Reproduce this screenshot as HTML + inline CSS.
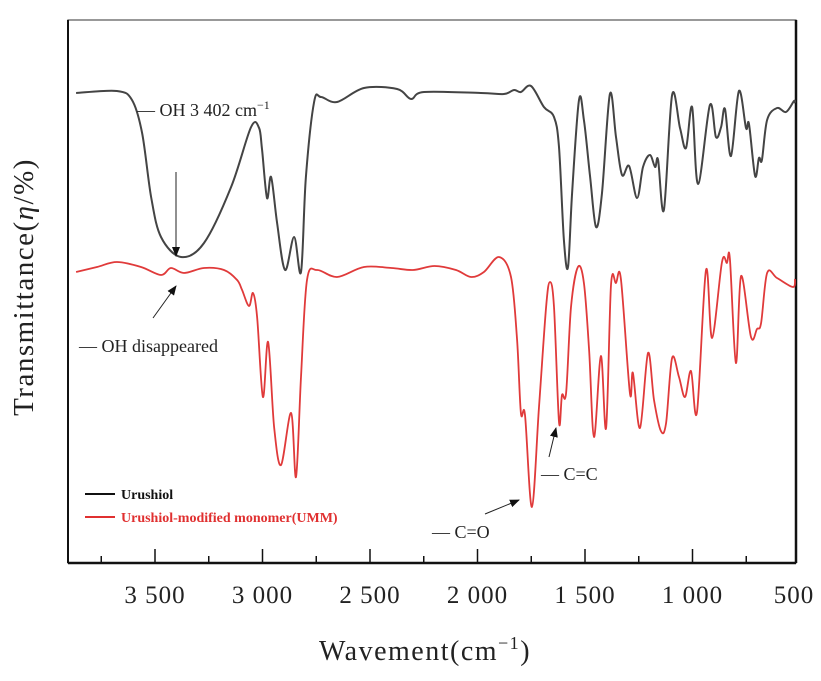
<!DOCTYPE html>
<html><head><meta charset="utf-8"><style>
body{margin:0;background:#fff;}
svg{display:block;font-family:"Liberation Serif",serif;}
</style></head><body>
<svg id="chart" width="821" height="681" viewBox="0 0 821 681">
  <rect x="68" y="20" width="728" height="543" fill="none" stroke="#555" stroke-width="1.2"/>
  <line x1="68" y1="563" x2="796" y2="563" stroke="#111" stroke-width="2.5"/>
  <line x1="796" y1="20" x2="796" y2="563" stroke="#111" stroke-width="2.5"/>
  <line x1="68" y1="20" x2="68" y2="563" stroke="#111" stroke-width="2"/>
  <g id="ticks"></g>
  <g id="series"></g>
  <text x="425" y="660" font-size="28" letter-spacing="1.5" text-anchor="middle" fill="#222">Wavement(cm<tspan dy="-11" font-size="18">−1</tspan><tspan dy="11">)</tspan></text>
  <text transform="translate(33,287) rotate(-90)" font-size="29" letter-spacing="1.5" text-anchor="middle" fill="#222">Transmittance(<tspan font-style="italic">η</tspan>/%)</text>
  <g>
    <line x1="85" y1="494" x2="115" y2="494" stroke="#111" stroke-width="2"/>
    <text x="121" y="499" font-size="14" font-weight="bold" fill="#111">Urushiol</text>
    <line x1="85" y1="517" x2="115" y2="517" stroke="#e03030" stroke-width="2"/>
    <text x="121" y="522" font-size="14" font-weight="bold" fill="#e03030">Urushiol-modified monomer(UMM)</text>
  </g>
  <defs><marker id="ah" markerWidth="10" markerHeight="8" refX="9" refY="4" orient="auto" markerUnits="userSpaceOnUse"><path d="M0,0 L10,4 L0,8 Z" fill="#111"/></marker></defs>
  <g>
    <text x="137" y="116" font-size="18" fill="#222">— OH 3 402 cm<tspan dy="-7" font-size="12">−1</tspan></text>
    <line x1="176" y1="172" x2="176" y2="256" stroke="#222" stroke-width="1" marker-end="url(#ah)"/>
    <text x="79" y="352" font-size="18" fill="#222">— OH disappeared</text>
    <line x1="153" y1="318" x2="176" y2="286" stroke="#222" stroke-width="1" marker-end="url(#ah)"/>
    <text x="541" y="480" font-size="18" fill="#222">— C=C</text>
    <line x1="549" y1="457" x2="556" y2="428" stroke="#222" stroke-width="1" marker-end="url(#ah)"/>
    <text x="432" y="538" font-size="18" fill="#222">— C=O</text>
    <line x1="485" y1="514" x2="519" y2="500" stroke="#222" stroke-width="1" marker-end="url(#ah)"/>
  </g>
</svg>
<script>
const tickValues=[3500,3000,2500,2000,1500,1000,500];
const tickLabels=["3 500","3 000","2 500","2 000","1 500","1 000","500"];
const minorTicks=[3750,3250,2750,2250,1750,1250,750];
const urushiolWave=[3867,3677,3607,3560,3518,3472,3379,3272,3146,3053,3016,3002,2979,2960,2932,2895,2853,2821,2798,2760,2728,2653,2528,2374,2309,2249,1984,1877,1830,1798,1751,1691,1644,1621,1598,1579,1560,1528,1505,1477,1449,1421,1384,1356,1328,1295,1258,1230,1198,1174,1160,1133,1095,1058,1030,1002,974,919,891,867,849,821,784,751,737,709,691,677,653,607,565,528,505];
const urushiolT=[470,472,463,430,366,326,306,320,376,436,435,413,365,386,340,293,326,291,386,461,466,461,475,474,464,471,470,469,473,471,477,456,446,416,323,296,370,463,443,388,336,370,469,426,388,397,365,396,408,396,403,353,468,435,415,456,379,458,426,436,454,407,472,435,439,387,405,403,443,455,451,462,460];
const ummWave=[3867,3770,3677,3565,3472,3426,3365,3272,3179,3118,3095,3063,3044,3025,2998,2974,2946,2914,2867,2844,2821,2793,2746,2653,2528,2400,2300,2200,2100,2030,1970,1900,1844,1816,1798,1779,1747,1714,1681,1663,1644,1621,1607,1588,1565,1533,1505,1481,1458,1426,1402,1379,1356,1333,1291,1277,1244,1207,1179,1147,1123,1095,1063,1035,1007,979,937,909,863,840,826,798,774,728,700,681,653,607,533,505];
const ummT=[291,296,301,296,288,295,290,295,293,283,273,257,270,246,166,221,136,98,150,86,186,283,293,286,296,295,293,297,293,286,291,306,286,223,150,148,56,156,256,281,256,141,168,170,256,296,280,213,126,207,135,278,280,284,170,190,135,210,163,132,140,205,186,166,192,151,293,225,301,300,304,200,287,226,234,240,290,285,276,284];
const X0=800,W0=500,PX=107.5/500;
function xs(w){return X0-(w-W0)*PX;}
function ys(t){return 563-t;}
const NS="http://www.w3.org/2000/svg";
const tg=document.getElementById('ticks');
tickValues.forEach((v,i)=>{
  if(i<tickValues.length-1){
    const l=document.createElementNS(NS,'line');
    l.setAttribute('x1',xs(v));l.setAttribute('x2',xs(v));l.setAttribute('y1',563);l.setAttribute('y2',549);
    l.setAttribute('stroke','#111');l.setAttribute('stroke-width','1.5');
    
    
    tg.appendChild(l);
  }
  const t=document.createElementNS(NS,'text');
  t.setAttribute('x',i===tickValues.length-1?xs(v)-6:xs(v));t.setAttribute('y',603);t.setAttribute('font-size','25');
  t.setAttribute('text-anchor','middle');t.setAttribute('fill','#222');t.setAttribute('letter-spacing','1');
  t.textContent=tickLabels[i];
  
  
  tg.appendChild(t);
});
minorTicks.forEach(v=>{
  const l=document.createElementNS(NS,'line');
  l.setAttribute('x1',xs(v));l.setAttribute('x2',xs(v));l.setAttribute('y1',563);l.setAttribute('y2',556);
  l.setAttribute('stroke','#111');l.setAttribute('stroke-width','1.5');
  
  
  tg.appendChild(l);
});
function pathFrom(ws,ts){
  const p=ws.map((w,i)=>[Math.min(795,xs(w)),ys(ts[i])]);
  let d='M'+p[0][0].toFixed(1)+','+p[0][1].toFixed(1);
  for(let i=0;i<p.length-1;i++){
    const p0=p[Math.max(0,i-1)],p1=p[i],p2=p[i+1],p3=p[Math.min(p.length-1,i+2)];
    const c1=[p1[0]+(p2[0]-p0[0])/6,p1[1]+(p2[1]-p0[1])/6];
    const c2=[p2[0]-(p3[0]-p1[0])/6,p2[1]-(p3[1]-p1[1])/6];
    d+=' C'+c1.map(v=>v.toFixed(1)).join(',')+' '+c2.map(v=>v.toFixed(1)).join(',')+' '+p2.map(v=>v.toFixed(1)).join(',');
  }
  return d;
}
const sg=document.getElementById('series');
const s1=document.createElementNS(NS,'path');
s1.setAttribute('d',pathFrom(urushiolWave,urushiolT));
s1.setAttribute('fill','none');s1.setAttribute('stroke','#444');s1.setAttribute('stroke-width','2');


sg.appendChild(s1);
const s2=document.createElementNS(NS,'path');
s2.setAttribute('d',pathFrom(ummWave,ummT));
s2.setAttribute('fill','none');s2.setAttribute('stroke','#e03a3a');s2.setAttribute('stroke-width','1.8');


sg.appendChild(s2);
</script>
</body></html>
